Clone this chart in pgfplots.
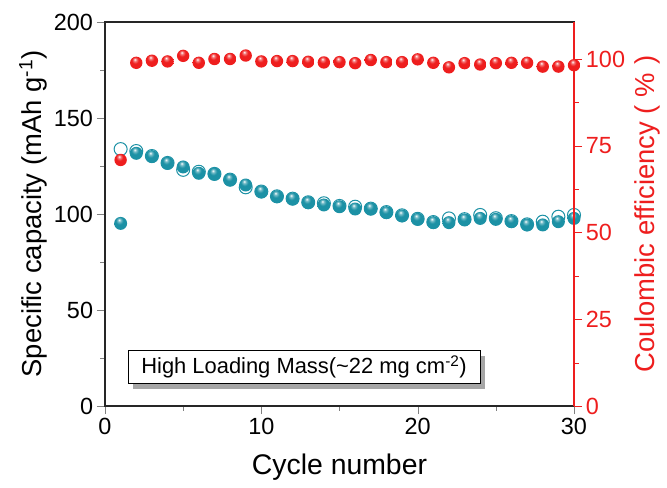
\documentclass[border=0pt]{standalone}
\usepackage{fontspec}
\setmainfont{Liberation Sans}
\usepackage{pgfplots}
\pgfplotsset{compat=1.18}
\usetikzlibrary{shadows}
\definecolor{cered}{RGB}{238,30,30}
\definecolor{teal1}{RGB}{28,145,165}
\pgfdeclareradialshading{tealball}{\pgfqpoint{-6bp}{14bp}}{color(0bp)=(white); color(6bp)=(white!40!teal1); color(14bp)=(teal1); color(40bp)=(teal1); color(60bp)=(teal1!70!black)}
\pgfdeclareradialshading{redball}{\pgfqpoint{-6bp}{14bp}}{color(0bp)=(white); color(6bp)=(white!40!cered); color(14bp)=(cered); color(40bp)=(cered); color(60bp)=(cered!75!black)}
\pgfdeclareplotmark{tball}{\pgfpathcircle{\pgfpointorigin}{\pgfplotmarksize}\pgfshadepath{tealball}{0}\pgfusepath{}}
\pgfdeclareplotmark{rball}{\pgfpathcircle{\pgfpointorigin}{\pgfplotmarksize}\pgfshadepath{redball}{0}\pgfusepath{}}
\pgfplotstableread{
c dis
1 95.1
2 131.6
3 129.9
4 126.4
5 124.5
6 121.2
7 120.7
8 117.7
9 115.1
10 111.5
11 109.0
12 107.8
13 105.9
14 104.7
15 103.8
16 102.6
17 102.6
18 100.7
19 99.0
20 97.2
21 95.5
22 95.5
23 96.9
24 97.7
25 97.2
26 96.0
27 94.3
28 94.3
29 96.0
30 97.7
}\distable
\pgfplotstableread{
c ch
1 133.8
2 132.8
3 130.2
4 126.6
5 123.0
6 122.0
7 120.9
8 117.9
9 113.9
10 111.7
11 109.2
12 108.0
13 106.1
14 105.6
15 104.2
16 103.8
17 102.8
18 101.0
19 99.3
20 97.5
21 95.8
22 97.7
23 97.3
24 99.5
25 97.8
26 96.3
27 94.6
28 96.0
29 98.6
30 99.5
}\chtable
\pgfplotstableread{
c ce
1 70.9
2 98.9
3 99.5
4 99.3
5 100.9
6 98.9
7 100.0
8 100.0
9 101.0
10 99.3
11 99.4
12 99.4
13 99.2
14 99.0
15 99.1
16 98.8
17 99.7
18 99.1
19 99.1
20 99.9
21 98.9
22 97.6
23 98.8
24 98.4
25 98.8
26 98.9
27 98.9
28 97.8
29 97.8
30 98.2
}\cetable
\begin{document}
\begin{tikzpicture}
\pgfplotsset{
  every axis/.append style={
    scale only axis, width=469bp, height=384bp,
    xmin=0, xmax=30, clip=false,
    tick align=outside,
    major tick length=8bp, minor tick length=4.5bp,
    tick label style={font=\fontsize{23.5}{26}\selectfont},
    label style={font=\fontsize{27.5}{30}\selectfont},
    /pgf/number format/assume math mode=true,
    line width=1.3bp,
  }
}
\begin{axis}[
  ymin=0, ymax=200,
  xtick={0,10,20,30}, minor x tick num=1,
  ytick={0,50,100,150,200}, minor y tick num=1,
  xtick pos=bottom, ytick pos=left,
  axis line style={black!85},
  xlabel={Cycle number},
  ylabel={Specific capacity (mAh g\textsuperscript{-1})},
  xlabel style={at={(axis description cs:0.5,-0.158)}, anchor=center, font=\fontsize{28.5}{31}\selectfont},
  ylabel style={at={(axis description cs:-0.153,0.5)}, anchor=center, rotate=0},
]
\coordinate (ll) at (rel axis cs:0,0);
\coordinate (ur) at (rel axis cs:1,1);
\addplot[only marks, mark=o, mark size=6.5bp, teal1, mark options={line width=1bp}] table[x=c,y=ch] {\chtable};
\addplot[only marks, mark=tball, mark size=6.5bp] table[x=c,y=dis] {\distable};
\node[draw=black, fill=white, line width=0.8bp, inner sep=4bp, minimum width=352bp, minimum height=33bp,
  font=\fontsize{22}{25}\selectfont,
  drop shadow={shadow xshift=5bp, shadow yshift=-5bp, fill=gray!70, opacity=1}]
  at (axis cs:12.73,20.3) {High Loading Mass(\textasciitilde22 mg cm\textsuperscript{-2})};
\end{axis}
\begin{axis}[
  ymin=0, ymax=110.66,
  axis x line=none,
  axis y line*=right,
  ytick={0,25,50,75,100}, minor y tick num=1,
  ylabel={Coulombic efficiency (\hspace{0.3em}\%\hspace{0.3em})},
  ylabel style={at={(axis description cs:1.156,0.5)}, anchor=center, rotate=0},
  y axis line style={cered},
  ytick style={cered},
  minor y tick style={cered},
  yticklabel style={cered},
  ylabel style={cered},
]
\addplot[only marks, mark=rball, mark size=6.2bp] table[x=c,y=ce] {\cetable};
\end{axis}
\pgfresetboundingbox
\path ([shift={(-105bp,-82bp)}]ll) rectangle ([shift={(93bp,22bp)}]ur);
\end{tikzpicture}
\end{document}
